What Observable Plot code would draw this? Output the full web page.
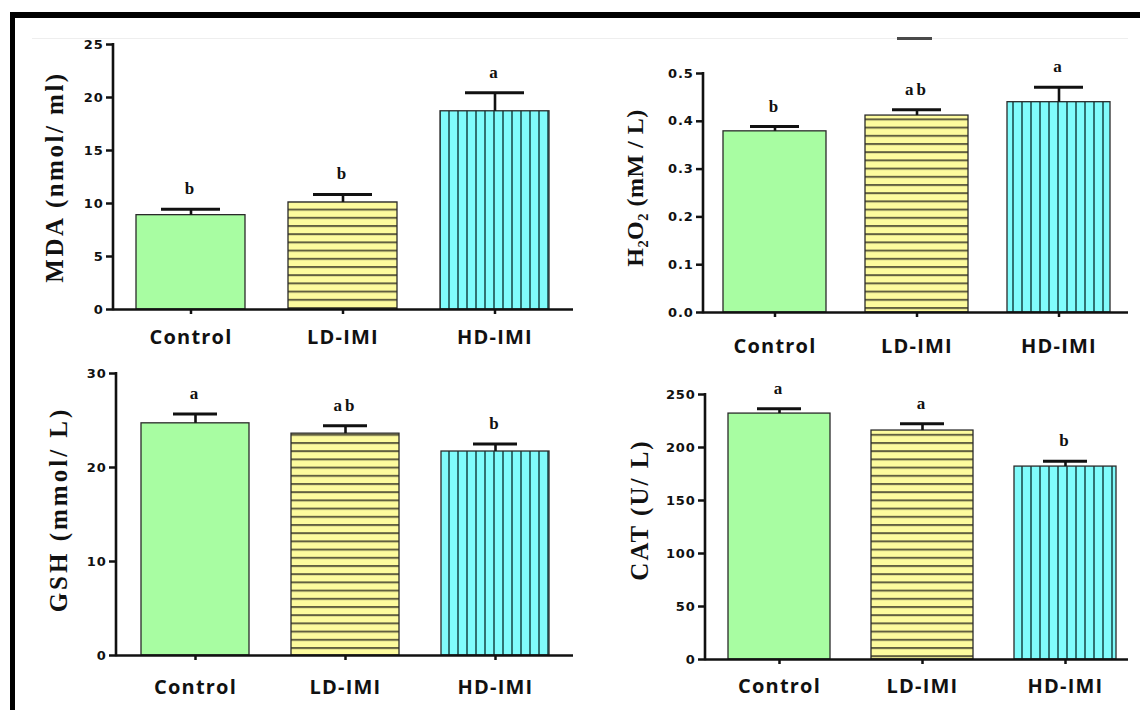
<!DOCTYPE html>
<html><head><meta charset="utf-8">
<script src="https://cdn.jsdelivr.net/npm/d3@7"></script>
<script src="https://cdn.jsdelivr.net/npm/@observablehq/plot@0.6"></script>
<style>
html,body{margin:0;padding:0;background:#fff;}
#wrap{position:relative;width:1140px;height:710px;overflow:hidden;background:#fff;}
#border{position:absolute;left:10px;top:12px;width:1200px;height:800px;border-left:5px solid #000;border-top:6px solid #000;}
#faint{position:absolute;left:32px;top:38px;width:1096px;height:1px;background:#eeeeee;}
#dash{position:absolute;left:897px;top:37px;width:35px;height:3px;background:#4a4a4a;}
</style></head><body>
<div id="wrap">
<svg width="0" height="0" style="position:absolute">
<defs>
<pattern id="hstripe" patternUnits="userSpaceOnUse" width="8" height="8.2">
<rect width="8" height="8.2" fill="#fdfb9e"/>
<rect y="0" width="8" height="2" fill="#626040"/>
</pattern>
<pattern id="vstripe" patternUnits="userSpaceOnUse" width="9" height="8">
<rect width="9" height="8" fill="#80fbfb"/>
<rect x="0" width="2" height="8" fill="#2f7272"/>
</pattern>
</defs></svg>
<div id="border"></div><div id="faint"></div><div id="dash"></div>
</div>
<script>
const groups = ["Control", "LD-IMI", "HD-IMI"];

const mdaMean = [8.9, 10.1, 18.7];
const mdaSE = [0.55, 0.75, 1.75];
const mdaLetters = ["b", "b", "a"];
const mdaTicks = [0, 5, 10, 15, 20, 25];

const h2o2Mean = [0.379, 0.412, 0.440];
const h2o2SE = [0.010, 0.012, 0.031];
const h2o2Letters = ["b", "ab", "a"];
const h2o2Ticks = [0, 0.1, 0.2, 0.3, 0.4, 0.5];

const gshMean = [24.7, 23.6, 21.7];
const gshSE = [1.0, 0.85, 0.8];
const gshLetters = ["a", "ab", "b"];
const gshTicks = [0, 10, 20, 30];

const catMean = [232, 216, 182];
const catSE = [4.5, 6.5, 5];
const catLetters = ["a", "a", "b"];
const catTicks = [0, 50, 100, 150, 200, 250];

const groupFill = {"Control": "#a8fda2", "LD-IMI": "url(#hstripe)", "HD-IMI": "url(#vstripe)"};

const panels = [
  {left:16, top:20, width:560, height:340, ml:97, mr:3, mt:24, mb:51, domain:[0,25], ticks:mdaTicks, fmt:d3.format("d"),
   mean:mdaMean, se:mdaSE, letters:mdaLetters, title:"MDA (nmol/ ml)", tdx:-59, tdy:0, tsp:2.5, tsize:25,
   pi:0.28, po:0.15, align:0.5, xPad:15.5, cap:25},
  {left:580, top:20, width:555, height:340, ml:123, mr:7, mt:53, mb:48, domain:[0,0.5], ticks:h2o2Ticks, fmt:d3.format(".1f"),
   mean:h2o2Mean, se:h2o2SE, letters:h2o2Letters, title:"H₂O₂ (mM / L)", tdx:-68, tdy:-5, tsp:0.5, tsize:24,
   pi:0.278, po:0.135, align:0.51, xPad:21, cap:27},
  {left:16, top:360, width:560, height:345, ml:100, mr:3, mt:13, mb:50, domain:[0,30], ticks:gshTicks, fmt:d3.format("d"),
   mean:gshMean, se:gshSE, letters:gshLetters, title:"GSH (mmol/ L)", tdx:-58, tdy:-5, tsp:3, tsize:25,
   pi:0.28, po:0.163, align:0.5, xPad:19.5, cap:32},
  {left:580, top:360, width:555, height:345, ml:125, mr:7, mt:34, mb:46, domain:[0,250], ticks:catTicks, fmt:d3.format("d"),
   mean:catMean, se:catSE, letters:catLetters, title:"CAT (U/ L)", tdx:-66, tdy:-17, tsp:2, tsize:25,
   pi:0.29, po:0.119, align:0.66, xPad:14, cap:29}
];

function makePanel(p) {
  const data = groups.map((g, i) => ({group:g, mean:p.mean[i], top:p.mean[i] + p.se[i], letter:p.letters[i]}));
  const yAxisLine = (index, scales, values, dims) => {
    const x = dims.marginLeft;
    return d3.create("svg:line")
      .attr("x1", x).attr("x2", x)
      .attr("y1", scales.y(p.domain[1]) - 1).attr("y2", scales.y(p.domain[0]) + 1.3)
      .attr("stroke", "#111").attr("stroke-width", 2.6).node();
  };
  const chart = Plot.plot({
    width:p.width, height:p.height,
    marginLeft:p.ml, marginRight:p.mr, marginTop:p.mt, marginBottom:p.mb,
    style:{background:"transparent", color:"#111", overflow:"visible"},
    x:{domain:groups, paddingInner:p.pi, paddingOuter:p.po, align:p.align, label:null},
    y:{domain:p.domain, label:null},
    color:{type:"identity"},
    marks:[
      Plot.barY(data, {x:"group", y:"mean", fill:d => groupFill[d.group], stroke:"#2a2a2a", strokeWidth:1.3}),
      Plot.ruleX(data, {x:"group", y1:"mean", y2:"top", stroke:"#111", strokeWidth:2.6}),
      Plot.tickY(data, {x:"group", y:"top", stroke:"#111", strokeWidth:3, insetLeft:p.cap, insetRight:p.cap}),
      Plot.text(data, {x:"group", y:"top", text:"letter", dy:-15, lineAnchor:"bottom",
        fontFamily:"Liberation Serif", fontWeight:"bold", fontSize:17, fill:"#111"}),
      Plot.ruleY([0], {stroke:"#111", strokeWidth:2.6}),
      yAxisLine,
      Plot.axisY({ticks:p.ticks, tickFormat:p.fmt, tickSize:7, tickPadding:3, strokeWidth:2.5,
        fontSize:13, fontWeight:"bold", fontFamily:"DejaVu Sans", label:null}),
      Plot.axisX({tickSize:5, tickPadding:p.xPad, strokeWidth:2.5,
        fontSize:20, fontWeight:"bold", fontFamily:"Open Sans", label:null}),
      Plot.text([p.title], {text:d => d, frameAnchor:"left", textAnchor:"middle", lineAnchor:"middle",
        rotate:-90, dx:p.tdx, dy:p.tdy,
        fontFamily:"Liberation Serif", fontWeight:"bold", fontSize:p.tsize, fill:"#111"})
    ]
  });
  const s = d3.select(chart);
  s.selectAll("text").filter(function() { return this.textContent === p.title; })
    .style("letter-spacing", p.tsp + "px");
  s.selectAll("text").filter(function() { return p.letters.includes(this.textContent); })
    .style("letter-spacing", "3px");
  s.selectAll("text").filter(function() { return groups.includes(this.textContent); })
    .style("letter-spacing", "1.2px");
  s.selectAll("text").filter(function() { return p.ticks.map(p.fmt).includes(this.textContent); })
    .style("letter-spacing", "0.8px");
  chart.style.position = "absolute";
  chart.style.left = p.left + "px";
  chart.style.top = p.top + "px";
  chart.style.maxWidth = "none";
  document.getElementById("wrap").appendChild(chart);
}
panels.forEach(makePanel);
</script>
</body></html>
